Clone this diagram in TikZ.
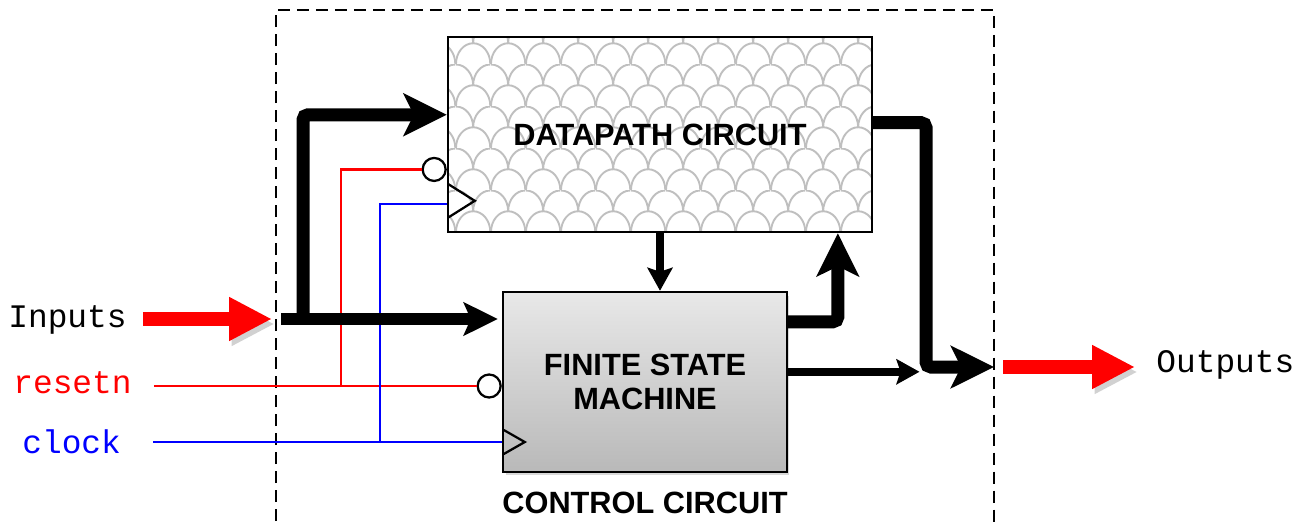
\documentclass[tikz,border=0pt]{standalone}
\usepackage{fontspec}
\setmainfont{Liberation Sans}
\setmonofont{Liberation Mono}
\usetikzlibrary{calc}
\usetikzlibrary{positioning}
\usetikzlibrary{arrows.meta}
\usetikzlibrary{patterns}
\usetikzlibrary{shadows}

\pgfdeclarepatternformonly{fishscales}{\pgfqpoint{0pt}{0pt}}{\pgfqpoint{20pt}{24pt}}{\pgfqpoint{20pt}{24pt}}{%
	\pgfsetlinewidth{1.1pt}%
	\pgfpathmoveto{\pgfqpoint{0pt}{0pt}}%
	\pgfpatharc{180}{0}{10pt and 12pt}%
	\pgfpathmoveto{\pgfqpoint{0pt}{24pt}}%
	\pgfpatharc{90}{0}{10pt and 12pt}%
	\pgfpathmoveto{\pgfqpoint{10pt}{12pt}}%
	\pgfpatharc{180}{90}{10pt and 12pt}%
	\pgfusepath{stroke}%
}

\begin{document}
\begin{tikzpicture}[
		x=0.02cm, y=-0.02cm,
		block/.style={
			draw=black,
			line width=0.05cm,
			rectangle,
			inner sep=0pt,
			align=center,
			font=\bfseries\fontsize{17.5}{19.5}\selectfont},
		block_dp/.style={
			block,
			preaction={fill=white},
			pattern=fishscales,
			pattern color=gray!50,
			minimum width=8.48cm,
			minimum height=3.9cm},
		block_fsm/.style={
			block,
			top color=gray!18,
			bottom color=gray!55,
			drop shadow={shadow xshift=0.05cm, shadow yshift=-0.07cm, opacity=0.3},
			minimum width=5.68cm,
			minimum height=3.6cm},
		caption/.style={
			inner sep=0pt,
			anchor=base,
			font=\bfseries\fontsize{17.5}{19.5}\selectfont},
		port/.style={
			inner sep=0pt,
			anchor=base west,
			font=\ttfamily\fontsize{18.7}{22}\selectfont},
		bubble/.style={
			circle,
			draw=black,
			fill=white,
			line width=0.045cm,
			inner sep=0pt,
			minimum size=0.46cm,
			anchor=east},
		clk_mark/.style={
			draw=black,
			line width=0.045cm},
		frame_dashed/.style={
			draw=black,
			line width=0.05cm,
			dash pattern=on 0.24cm off 0.14cm},
		red_arrow/.style={
			draw=red,
			line width=0.27cm,
			-{Triangle[length=0.86cm, width=0.82cm]},
			preaction={draw=black!18, transform canvas={shift={(0.05cm,-0.1cm)}}}},
		bus_thick/.style={
			draw=black,
			line width=0.26cm,
			rounded corners=0.1cm,
			-{Stealth[length=0.86cm, width=0.84cm, inset=0.2cm]}},
		bus_in/.style={
			draw=black,
			line width=0.24cm,
			-{Stealth[length=0.68cm, width=0.66cm, inset=0.14cm]}},
		ctrl_line/.style={
			draw=black,
			line width=0.16cm,
			-{Stealth[length=0.46cm, width=0.5cm, inset=0.08cm]}},
		sig_reset/.style={
			draw=red,
			line width=0.05cm},
		sig_clock/.style={
			draw=blue,
			line width=0.05cm},
		]

		\useasboundingbox (0,0) rectangle (1307,527);

		%Boundary
		\draw[frame_dashed] (276,540) -- (276,10) -- (994,10) -- (994,540);

		%Datapath
		\node (dp)[block_dp] at (660,134.5) {DATAPATH CIRCUIT};

		%Control
		\node (fsm)[block_fsm] at (645,382) {FINITE STATE\\MACHINE};
		\node (ctrl_lbl)[caption] at ($(fsm.south)+(0,40)$) {CONTROL CIRCUIT};

		%Ports
		\node (inputs)[port] at (8,327) {Inputs};
		\node (resetn)[port, text=red] at (13,393) {resetn};
		\node (clock)[port, text=blue] at (22,453) {clock};
		\node (outputs)[port] at (1156,372) {Outputs};

		\coordinate (inport) at (276,319);
		\coordinate (outport) at (994,367);
		\coordinate (bus_split) at (303,319);
		\coordinate (rst_tap) at (341,386);
		\coordinate (clk_tap) at (380,442);
		\coordinate (merge) at (926,367);
		\coordinate (dp_in) at ($(dp.north west)!0.4!(dp.south west)$);
		\coordinate (dp_rst) at ($(dp.north west)!0.677!(dp.south west)$);
		\coordinate (dp_clk) at ($(dp.north west)!0.851!(dp.south west)$);
		\coordinate (dp_out) at ($(dp.north east)!0.44!(dp.south east)$);
		\coordinate (fsm_out1) at ($(fsm.north east)!0.17!(fsm.south east)$);
		\coordinate (fsm_out2) at ($(fsm.north east)!0.444!(fsm.south east)$);

		%Bubbles
		\node (dp_bub)[bubble] at (dp_rst) {};
		\node (fsm_bub)[bubble] at (fsm.west |- rst_tap) {};

		%Clock marks
		\draw[clk_mark] ($(dp_clk)+(1,-20)$) -- ++(27,17) -- ++(-27,17);
		\draw[clk_mark] ($(fsm.west |- clk_tap)+(2,-12)$) -- ++(21,12) -- ++(-21,12);

		%Red in / out
		\draw[red_arrow, shorten <=0.32cm, shorten >=0.08cm] (inputs.east |- inport) -- (inport);
		\draw[red_arrow, shorten <=0.18cm, shorten >=0.42cm] (outport) -- (outputs.west |- outport);

		%Reset and clock
		\draw[sig_reset, shorten <=0.44cm] (resetn.east |- rst_tap) -- (fsm_bub.west);
		\draw[sig_reset] (rst_tap) |- (dp_bub.west);
		\draw[sig_clock, shorten <=0.64cm] (clock.east |- clk_tap) -- (clk_tap -| fsm.west);
		\draw[sig_clock] (clk_tap) |- (dp_clk);

		%Buses
		\draw[bus_in, shorten <=0.1cm, shorten >=0.08cm] (inport) -- (inport -| fsm.west);
		\draw[bus_thick] (bus_split) |- (dp_in);
		\draw[bus_thick] (fsm_out1) -| ($(dp.south west)!0.917!(dp.south east)$);
		\draw[bus_thick] (dp_out) -| (merge) -- (outport);
		\draw[ctrl_line] (dp.south) -- (dp.south |- fsm.north);
		\draw[ctrl_line, shorten >=0.13cm] (fsm_out2) -- (fsm_out2 -| merge);

	\end{tikzpicture}
\end{document}
